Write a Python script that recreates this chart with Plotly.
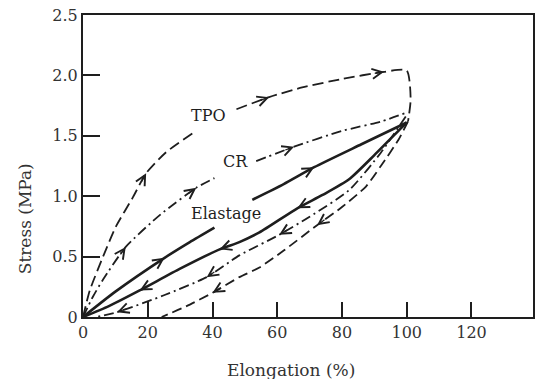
import plotly.graph_objects as go
import numpy as np

# ---------------- data ----------------
tpo_load_x = [0, 2.1, 6.2, 10.2, 15.4, 19.5, 25.5, 33.8, None, 47.4, 57.5, 67.7, 80, 93, 100, 101.2, 100.4]
tpo_load_y = [0, 0.22, 0.50, 0.75, 0.99, 1.19, 1.36, 1.52, None, 1.72, 1.82, 1.90, 1.97, 2.03, 2.04, 1.80, 1.62]
tpo_unload_x = [100.4, 97.5, 92, 87.4, 80, 72.3, 62, 54.5, 48.3, 40, 32, 24.3]
tpo_unload_y = [1.62, 1.47, 1.25, 1.08, 0.91, 0.76, 0.55, 0.41, 0.33, 0.20, 0.09, 0]

cr_load_x = [0, 3.1, 6.2, 13.2, 24, 35, 40.6, None, 53.5, 65.2, 80, 92.3, 99.7]
cr_load_y = [0, 0.17, 0.31, 0.58, 0.85, 1.07, 1.15, None, 1.29, 1.41, 1.54, 1.62, 1.69]
cr_unload_x = [99.7, 92, 82.2, 70, 60.6, 48.3, 38.2, 25, 10.5, 4]
cr_unload_y = [1.66, 1.36, 1.05, 0.83, 0.68, 0.51, 0.33, 0.18, 0.04, 0]

el_load_x = [0, 10, 25.2, 33, 40.6, None, 52.3, 62, 71.4, 86, 100]
el_load_y = [0, 0.21, 0.49, 0.62, 0.74, None, 0.97, 1.10, 1.24, 1.43, 1.61]
el_unload_x = [100, 98.5, 90, 82.2, 74, 66.2, 54.5, 48.3, 42.2, 30, 17.5, 8, 0]
el_unload_y = [1.61, 1.57, 1.34, 1.14, 1.01, 0.90, 0.70, 0.62, 0.56, 0.40, 0.22, 0.09, 0]

# indices of points carrying a direction arrow
tpo_load_arrows = [5, 10, 13]
tpo_unload_arrows = [5, 9]
cr_load_arrows = [3, 5, 9]
cr_unload_arrows = [4, 6, 8]
el_load_arrows = [2, 8]
el_unload_arrows = [5, 8, 10]

x_ticks = [0, 20, 40, 60, 80, 100, 120]
y_ticks = [0, 0.5, 1.0, 1.5, 2.0, 2.5]
y_tick_text = ["0", "0.5", "1.0", "1.5", "2.0", "2.5"]

# ---------------- figure ----------------
W, H = 536, 379
M = dict(l=83, r=1, t=15, b=62)
XR = [0, 139]
YR = [0, 2.5]
INK = "#1e1e1e"
TXT = "#333333"
FONT = "DejaVu Serif"

fig = go.Figure()

def add_curve(x, y, dash, width):
    fig.add_trace(go.Scatter(x=x, y=y, mode="lines", connectgaps=False,
                             line=dict(color=INK, width=width, dash=dash, shape="spline", smoothing=0.6),
                             hoverinfo="skip", showlegend=False))

add_curve(tpo_load_x, tpo_load_y, "11px,5px", 1.8)
add_curve(tpo_unload_x, tpo_unload_y, "10px,5px", 1.8)
add_curve(cr_load_x, cr_load_y, "10px,4px,2px,4px", 1.8)
add_curve(cr_unload_x, cr_unload_y, "10px,4px,2px,4px", 1.8)
add_curve(el_load_x, el_load_y, None, 2.6)
add_curve(el_unload_x, el_unload_y, None, 2.6)

# arrowheads oriented along the curves (direction from previous point)
pw = W - M["l"] - M["r"]
ph = H - M["t"] - M["b"]
sx = pw / (XR[1] - XR[0])
sy = ph / (YR[1] - YR[0])

def add_arrows(x, y, idxs):
    for i in idxs:
        dx = (x[i] - x[i - 1]) * sx
        dy = -(y[i] - y[i - 1]) * sy
        n = np.hypot(dx, dy)
        fig.add_annotation(x=x[i], y=y[i], xref="x", yref="y", text="",
                           showarrow=True, arrowhead=5, arrowsize=1.5, arrowwidth=1.3,
                           arrowcolor=INK, ax=-dx / n * 11, ay=-dy / n * 11, standoff=0)

add_arrows(tpo_load_x, tpo_load_y, tpo_load_arrows)
add_arrows(tpo_unload_x, tpo_unload_y, tpo_unload_arrows)
add_arrows(cr_load_x, cr_load_y, cr_load_arrows)
add_arrows(cr_unload_x, cr_unload_y, cr_unload_arrows)
add_arrows(el_load_x, el_load_y, el_load_arrows)
add_arrows(el_unload_x, el_unload_y, el_unload_arrows)

# curve labels
for txt, lx, ly in [("TPO", 38.8, 1.67), ("CR", 47.1, 1.29), ("Elastage", 44.3, 0.86)]:
    fig.add_annotation(x=lx, y=ly, xref="x", yref="y", text=txt, showarrow=False,
                       font=dict(family=FONT, size=16, color=INK))

# axis titles (placed in pixels, converted to paper coordinates)
def px_to_paper(px, py):
    return (px - M["l"]) / pw, (H - M["b"] - py) / ph

tx, ty = px_to_paper(292, 370)
fig.add_annotation(x=tx, y=ty, xref="paper", yref="paper", text="Elongation (%)",
                   xanchor="center", yanchor="middle",
                   showarrow=False, font=dict(family=FONT, size=17, color=TXT))
tx, ty = px_to_paper(25, 219)
fig.add_annotation(x=tx, y=ty, xref="paper", yref="paper", text="Stress (MPa)", textangle=-90,
                   xanchor="center", yanchor="middle",
                   showarrow=False, font=dict(family=FONT, size=17, color=TXT))

fig.update_xaxes(range=XR, tickvals=x_ticks, ticks="inside", ticklen=15, tickwidth=1.5,
                 tickcolor=INK, showline=True, linewidth=2, linecolor=INK, mirror=True,
                 showgrid=False, zeroline=False,
                 tickfont=dict(family=FONT, size=16, color=TXT))
fig.update_yaxes(range=YR, tickvals=y_ticks, ticktext=y_tick_text, ticks="inside", ticklen=17,
                 tickwidth=1.5, tickcolor=INK, showline=True, linewidth=2, linecolor=INK, mirror=True,
                 showgrid=False, zeroline=False,
                 tickfont=dict(family=FONT, size=16, color=TXT))

fig.update_layout(width=W, height=H, margin=M, paper_bgcolor="white", plot_bgcolor="white",
                  showlegend=False)

fig.write_html("out.html")
